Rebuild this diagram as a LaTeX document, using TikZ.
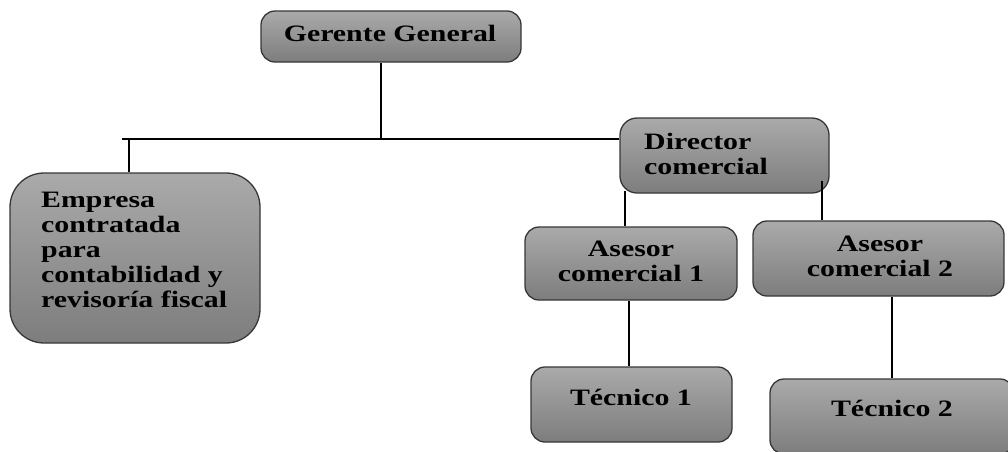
\documentclass[tikz,border=0pt]{standalone}
\usepackage{fontspec}
\setmainfont{Liberation Serif}[FakeStretch=1.27]
\begin{document}
\begin{tikzpicture}[x=1pt,y=-1pt,
  box/.style={draw={rgb,255:red,55;green,55;blue,55}, line width=1.3pt,
    top color={rgb,255:red,170;green,170;blue,170},
    bottom color={rgb,255:red,125;green,125;blue,125},
    rounded corners=14pt, inner sep=0pt},
  lbl/.style={inner sep=0pt, font=\fontsize{23.5}{25.2}\selectfont\bfseries},
  conn/.style={draw=black, line width=1.3pt}]
\useasboundingbox (0,0) rectangle (1008,451);
% boxes
\node[box, minimum width=260pt, minimum height=51pt] (gg) at (391,36.5) {};
\node[box, minimum width=209pt, minimum height=75pt, rounded corners=17pt] (dc) at (724.5,155.5) {};
\node[box, minimum width=250pt, minimum height=170pt, rounded corners=34pt] (emp) at (135,258) {};
\node[box, minimum width=212pt, minimum height=73pt] (a1) at (631,263.5) {};
\node[box, minimum width=251pt, minimum height=75pt] (a2) at (878.5,258.5) {};
\node[box, minimum width=201pt, minimum height=75pt] (t1) at (631.5,404.5) {};
\node[box, minimum width=244pt, minimum height=75pt] (t2) at (892,416.5) {};
% labels
\node[lbl] (ggt) at (390,33) {Gerente General};
\node[lbl, anchor=west, align=left] (dct) at (644,154) {Director\\comercial};
\node[lbl, anchor=west, align=left] (empt) at (41,250) {Empresa\\contratada\\para\\contabilidad y\\revisoría fiscal};
\node[lbl, align=center] (a1t) at (631,261) {Asesor\\comercial 1};
\node[lbl, align=center] (a2t) at (880,256) {Asesor\\comercial 2};
\node[lbl] (t1t) at (631,397) {Técnico 1};
\node[lbl] (t2t) at (892,408) {Técnico 2};
% connectors
\coordinate (j1) at (381,139);
\coordinate (hl) at (122,139);
\coordinate (j2) at (129,139);
\draw[conn] (gg.south -| j1) -- (j1);
\draw[conn] (hl) -- (hl -| dc.west);
\draw[conn] (j2) -- (emp.north -| j2);
\coordinate (d1) at (625,191);
\draw[conn] (d1) -- (a1.north -| d1);
\coordinate (d2) at (822,181);
\draw[conn] (d2) -- (a2.north -| d2);
\coordinate (s1) at (629,300);
\draw[conn] (a1.south -| s1) -- (t1.north -| s1);
\coordinate (s2) at (892,296);
\draw[conn] (a2.south -| s2) -- (t2.north -| s2);
\end{tikzpicture}
\end{document}
